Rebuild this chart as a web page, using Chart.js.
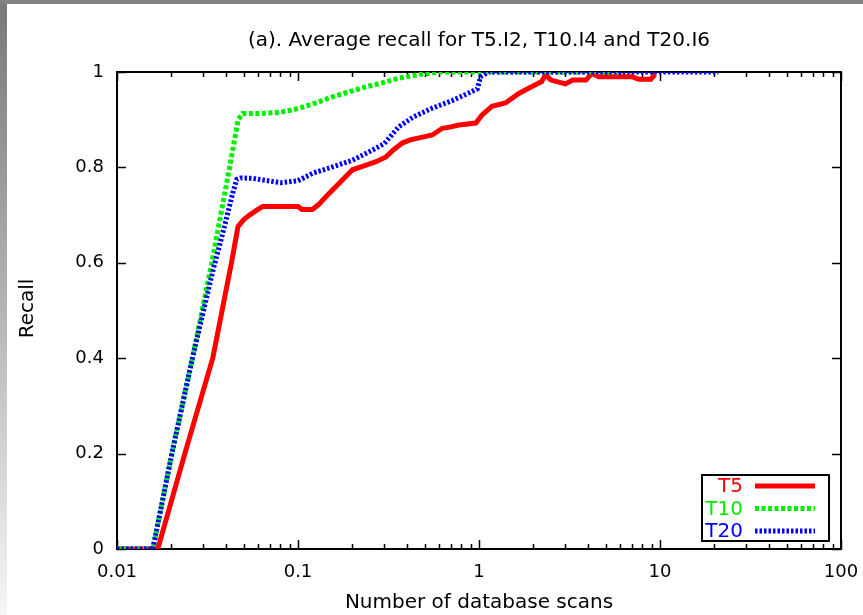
<!DOCTYPE html>
<html>
<head>
<meta charset="utf-8">
<script src="https://cdn.jsdelivr.net/npm/chart.js@4.4.1/dist/chart.umd.min.js"></script>
<style>
  html, body { margin: 0; padding: 0; background: #fff; }
  #wrap { width: 863px; height: 615px; position: relative; }
</style>
</head>
<body>
<div id="wrap"><canvas id="c" width="863" height="615"></canvas></div>
<script>
// ---- text ----
const titleText = '(a). Average recall for T5.I2, T10.I4 and T20.I6';
const xAxisTitle = 'Number of database scans';
const yAxisTitle = 'Recall';

// ---- ticks ----
const xTicks = [0.01, 0.1, 1, 10, 100];
const xTickLabels = ['0.01', '0.1', '1', '10', '100'];
const yTicks = [0, 0.2, 0.4, 0.6, 0.8, 1];
const yTickLabels = ['0', '0.2', '0.4', '0.6', '0.8', '1'];

// ---- series ----
const seriesNames = ['T5', 'T10', 'T20'];

const t5Scans = [0.01, 0.0168, 0.0237, 0.0338, 0.0429, 0.0466, 0.050, 0.054, 0.060, 0.064,
  0.085, 0.100, 0.105, 0.120, 0.130, 0.143, 0.169, 0.200, 0.238, 0.270, 0.306, 0.340, 0.377,
  0.420, 0.468, 0.552, 0.627, 0.700, 0.776, 0.960, 1.04, 1.18, 1.40, 1.66, 1.88, 2.22, 2.33,
  2.50, 3.00, 3.30, 3.90, 4.20, 4.60, 5.50, 7.00, 7.60, 8.90, 9.40];
const t5Recall = [0, 0, 0.2, 0.4, 0.6, 0.676, 0.690, 0.700, 0.712, 0.718,
  0.718, 0.718, 0.712, 0.712, 0.722, 0.739, 0.767, 0.795, 0.805, 0.812, 0.822, 0.838, 0.851,
  0.858, 0.862, 0.868, 0.882, 0.885, 0.889, 0.893, 0.910, 0.928, 0.935, 0.955, 0.966, 0.980, 0.994,
  0.983, 0.975, 0.983, 0.983, 0.997, 0.990, 0.990, 0.990, 0.985, 0.985, 0.995];

const t10Scans = [0.01, 0.01578, 0.0201, 0.0261, 0.0334, 0.0419, 0.0467, 0.0494, 0.060, 0.079,
  0.102, 0.125, 0.155, 0.190, 0.238, 0.290, 0.362, 0.47, 0.6, 6.0];
const t10Recall = [0, 0, 0.2, 0.4, 0.6, 0.8, 0.9, 0.913, 0.913, 0.915,
  0.924, 0.935, 0.948, 0.958, 0.969, 0.977, 0.987, 0.995, 1.0, 1.0];

const t20Scans = [0.01, 0.01578, 0.0201, 0.0261, 0.0342, 0.0384, 0.0436, 0.0459, 0.0482, 0.0563,
  0.08, 0.1, 0.121, 0.155, 0.2, 0.257, 0.3, 0.36, 0.43, 0.55, 0.71, 0.9, 0.98, 1.02, 1.13, 21];
const t20Recall = [0, 0, 0.2, 0.4, 0.59, 0.662, 0.746, 0.775, 0.778, 0.777,
  0.768, 0.772, 0.788, 0.801, 0.815, 0.836, 0.85, 0.885, 0.905, 0.924, 0.94, 0.958, 0.965, 0.99, 1.0, 1.0];

const toPoints = (xs, ys) => xs.map((x, i) => ({ x: x, y: ys[i] }));

const FONT = '"DejaVu Sans", "Liberation Sans", sans-serif';

// page background with the shaded frame on the top and left edges
const backdrop = {
  id: 'backdrop',
  beforeDraw(chart) {
    const ctx = chart.ctx;
    ctx.save();
    ctx.fillStyle = '#ffffff';
    ctx.fillRect(0, 0, chart.width, chart.height);
    const g = ctx.createLinearGradient(0, 0, 0, chart.height);
    g.addColorStop(0, '#787878');
    g.addColorStop(0.5, '#b4b4b4');
    g.addColorStop(1, '#f6f6f6');
    ctx.fillStyle = g;
    ctx.fillRect(0, 0, 7, chart.height);
    ctx.fillStyle = '#828282';
    ctx.fillRect(0, 0, chart.width, 4);
    ctx.restore();
  }
};

// box, inward ticks, tick labels and titles
const frame = {
  id: 'frame',
  beforeDatasetsDraw(chart) {
    const { ctx, chartArea: a, scales: { x, y } } = chart;
    ctx.save();
    ctx.strokeStyle = '#000';
    ctx.lineWidth = 1.5;
    ctx.beginPath();
    // decade and minor ticks on bottom and top
    for (let d = 0; d < xTicks.length; d++) {
      const base = xTicks[d];
      for (let m = 1; m <= 9; m++) {
        const v = base * m;
        if (v > xTicks[xTicks.length - 1]) break;
        const px = Math.round(x.getPixelForValue(v)) + 0.5;
        const len = m === 1 ? 9 : 5;
        ctx.moveTo(px, a.bottom); ctx.lineTo(px, a.bottom - len);
        ctx.moveTo(px, a.top); ctx.lineTo(px, a.top + len);
      }
    }
    // value ticks on left and right
    yTicks.forEach(v => {
      const py = Math.round(y.getPixelForValue(v)) + 0.5;
      ctx.moveTo(a.left, py); ctx.lineTo(a.left + 9, py);
      ctx.moveTo(a.right, py); ctx.lineTo(a.right - 9, py);
    });
    ctx.stroke();

    ctx.lineWidth = 2;
    ctx.strokeRect(a.left, a.top, a.right - a.left, a.bottom - a.top);

    ctx.fillStyle = '#000';
    ctx.font = '18px ' + FONT;
    ctx.textBaseline = 'middle';
    ctx.textAlign = 'right';
    yTicks.forEach((v, i) => ctx.fillText(yTickLabels[i], a.left - 13, y.getPixelForValue(v)));
    ctx.textAlign = 'center';
    xTicks.forEach((v, i) => ctx.fillText(xTickLabels[i], x.getPixelForValue(v), a.bottom + 23));

    ctx.font = '20px ' + FONT;
    const midX = (a.left + a.right) / 2;
    ctx.fillText(titleText, midX, 41);
    ctx.fillText(xAxisTitle, midX, 603);
    ctx.save();
    ctx.translate(28, (a.top + a.bottom) / 2 - 2);
    ctx.rotate(-Math.PI / 2);
    ctx.fillText(yAxisTitle, 0, 0);
    ctx.restore();
    ctx.restore();
  }
};

// key box in the lower right corner
const key = {
  id: 'key',
  afterDatasetsDraw(chart) {
    const ctx = chart.ctx;
    const bx = 702, by = 475, bw = 127, bh = 66;
    ctx.save();
    ctx.fillStyle = '#fff';
    ctx.fillRect(bx, by, bw, bh);
    ctx.strokeStyle = '#000';
    ctx.lineWidth = 2;
    ctx.strokeRect(bx, by, bw, bh);
    ctx.font = '20px ' + FONT;
    ctx.textAlign = 'right';
    ctx.textBaseline = 'middle';
    chart.data.datasets.forEach((ds, i) => {
      const ry = by + 11 + i * 22.5;
      ctx.fillStyle = ds.borderColor;
      ctx.fillText(ds.label, bx + 41, ry + 1);
      ctx.strokeStyle = ds.borderColor;
      ctx.lineWidth = ds.borderWidth;
      ctx.setLineDash(ds.borderDash || []);
      ctx.beginPath();
      ctx.moveTo(bx + 53, ry);
      ctx.lineTo(bx + 113, ry);
      ctx.stroke();
      ctx.setLineDash([]);
    });
    ctx.restore();
  }
};

new Chart(document.getElementById('c'), {
  type: 'line',
  data: {
    datasets: [
      { label: seriesNames[0], data: toPoints(t5Scans, t5Recall), borderColor: '#ff0000',
        borderWidth: 5, borderDash: [], order: 2 },
      { label: seriesNames[1], data: toPoints(t10Scans, t10Recall), borderColor: '#00ee00',
        borderWidth: 5, borderDash: [4, 2.5], order: 1 },
      { label: seriesNames[2], data: toPoints(t20Scans, t20Recall), borderColor: '#0000ff',
        borderWidth: 5, borderDash: [2.5, 2], order: 0 }
    ]
  },
  options: {
    responsive: false,
    animation: false,
    layout: { padding: { left: 117, top: 72, right: 22, bottom: 66 } },
    elements: { point: { radius: 0 }, line: { tension: 0, fill: false, borderCapStyle: 'butt' } },
    scales: {
      x: { type: 'logarithmic', min: 0.01, max: 100, display: false },
      y: { type: 'linear', min: 0, max: 1, display: false }
    },
    plugins: { legend: { display: false }, tooltip: { enabled: false }, title: { display: false } }
  },
  plugins: [backdrop, frame, key]
});
</script>
</body>
</html>
